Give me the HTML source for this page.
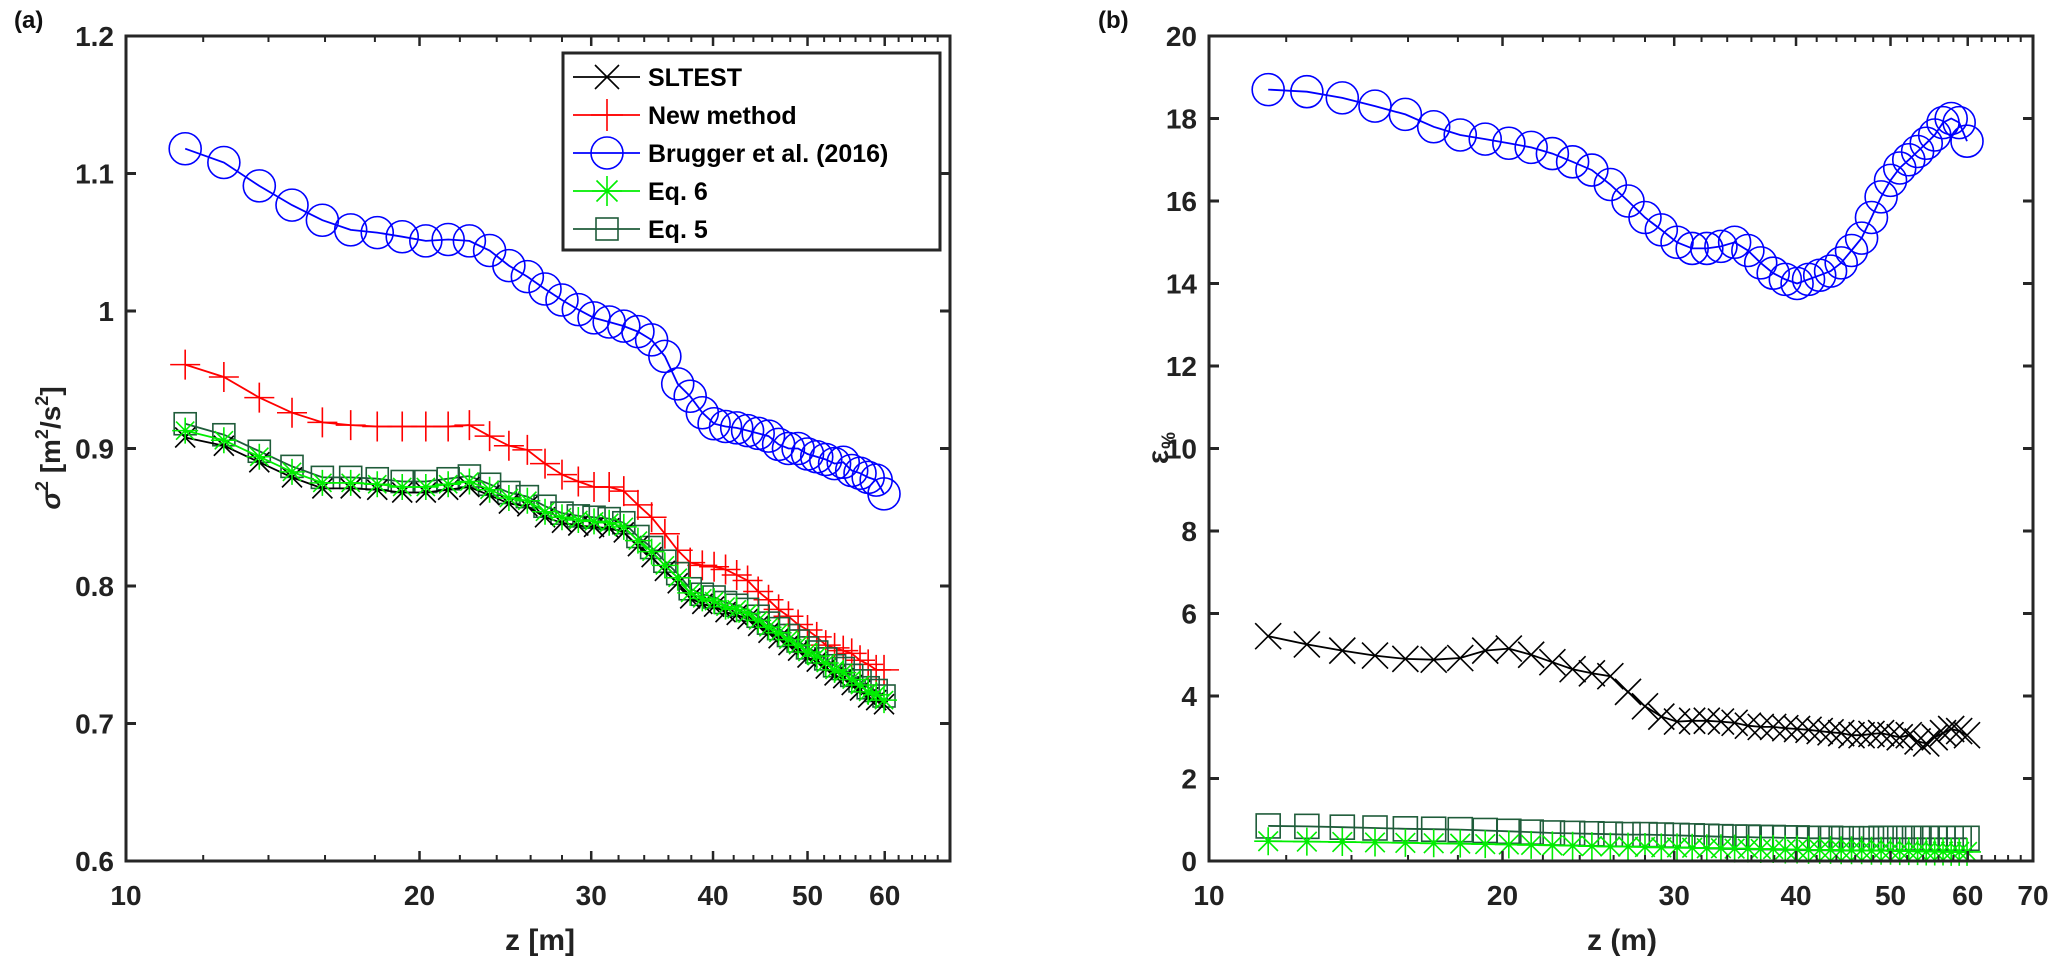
<!DOCTYPE html>
<html><head><meta charset="utf-8">
<style>
html,body{margin:0;padding:0;background:#fff;}
svg{display:block;font-family:"Liberation Sans",Arial,sans-serif;}
</style></head>
<body>
<svg id="fig" width="2067" height="976" viewBox="0 0 2067 976" xmlns="http://www.w3.org/2000/svg">
<rect x="0" y="0" width="2067" height="976" fill="#fff"/>
<text x="14" y="28" font-size="24" font-weight="bold" fill="#111">(a)</text>
<text x="1098" y="28" font-size="24" font-weight="bold" fill="#111">(b)</text>
<g id="pa"></g>
<g id="pb"></g>
<text x="540" y="950" text-anchor="middle" font-size="30" font-weight="bold" fill="#222">z [m]</text>
<text x="1622" y="950" text-anchor="middle" font-size="30" font-weight="bold" fill="#222">z (m)</text>
<text transform="translate(60,448) rotate(-90)" text-anchor="middle" font-size="28" font-weight="bold" fill="#222"><tspan font-style="italic">σ</tspan><tspan dy="-12" font-size="18">2</tspan><tspan dy="12"> [m</tspan><tspan dy="-12" font-size="18">2</tspan><tspan dy="12">/s</tspan><tspan dy="-12" font-size="18">2</tspan><tspan dy="12">]</tspan></text>
<text transform="translate(1168,448) rotate(-90)" text-anchor="middle" font-size="30" font-weight="bold" fill="#222">ε<tspan dx="1" dy="7" font-size="19">%</tspan></text>
<g id="legend"></g>
</svg>
<script>
const zVals = [11.5,12.6,13.7,14.8,15.9,17.0,18.1,19.2,20.3,21.4,22.5,23.6,24.7,25.8,26.9,28.0,29.1,30.2,31.3,32.4,33.5,34.6,35.7,36.8,37.9,39.0,40.1,41.2,42.3,43.4,44.5,45.6,46.7,47.8,48.9,50.0,51.1,52.2,53.3,54.4,55.5,56.6,57.7,58.8,59.9];
const aSltest = [0.908,0.902,0.890,0.879,0.871,0.871,0.870,0.868,0.868,0.870,0.872,0.866,0.860,0.858,0.850,0.846,0.844,0.843,0.842,0.839,0.829,0.821,0.811,0.802,0.791,0.787,0.785,0.781,0.779,0.776,0.771,0.766,0.762,0.757,0.753,0.748,0.745,0.740,0.735,0.733,0.728,0.724,0.719,0.717,0.714];
const aNew = [0.961,0.952,0.937,0.926,0.919,0.917,0.916,0.916,0.916,0.916,0.917,0.909,0.902,0.899,0.889,0.881,0.876,0.872,0.872,0.869,0.859,0.850,0.838,0.826,0.817,0.815,0.814,0.812,0.808,0.804,0.796,0.790,0.783,0.778,0.772,0.768,0.763,0.757,0.755,0.753,0.751,0.746,0.743,0.739,0.739];
const aBrugger = [1.118,1.108,1.091,1.077,1.066,1.059,1.057,1.054,1.051,1.052,1.051,1.044,1.033,1.025,1.016,1.008,1.001,0.995,0.992,0.989,0.985,0.979,0.967,0.947,0.938,0.926,0.918,0.916,0.915,0.913,0.911,0.909,0.903,0.900,0.900,0.896,0.894,0.892,0.889,0.890,0.884,0.882,0.879,0.877,0.867];
const aEq6 = [0.913,0.906,0.894,0.883,0.875,0.875,0.874,0.872,0.872,0.874,0.876,0.870,0.864,0.862,0.854,0.850,0.848,0.847,0.846,0.843,0.833,0.825,0.815,0.806,0.795,0.791,0.789,0.785,0.783,0.780,0.775,0.770,0.766,0.761,0.757,0.752,0.749,0.744,0.739,0.737,0.732,0.728,0.723,0.721,0.717];
const aEq5 = [0.918,0.910,0.898,0.887,0.879,0.879,0.878,0.876,0.876,0.878,0.880,0.874,0.868,0.865,0.858,0.853,0.851,0.850,0.849,0.846,0.836,0.828,0.818,0.809,0.798,0.794,0.792,0.788,0.786,0.783,0.778,0.773,0.769,0.764,0.760,0.755,0.752,0.747,0.742,0.740,0.735,0.731,0.726,0.724,0.720];
const bSltest = [5.45,5.25,5.10,4.98,4.90,4.88,4.92,5.10,5.15,5.00,4.82,4.65,4.55,4.48,4.10,3.75,3.50,3.38,3.40,3.40,3.38,3.35,3.28,3.25,3.25,3.22,3.20,3.18,3.15,3.12,3.10,3.05,3.05,3.08,3.10,3.05,3.00,3.05,2.90,2.85,3.00,3.10,3.20,3.15,3.05];
const bBrugger = [18.7,18.65,18.5,18.3,18.1,17.8,17.6,17.5,17.4,17.3,17.15,16.95,16.75,16.4,16.0,15.6,15.3,15.0,14.85,14.85,14.9,15.0,14.8,14.5,14.25,14.1,14.0,14.1,14.2,14.3,14.5,14.8,15.1,15.6,16.1,16.5,16.8,17.0,17.2,17.4,17.6,17.9,18.0,17.9,17.45];
const bEq6 = [0.48,0.47,0.46,0.45,0.44,0.43,0.42,0.41,0.40,0.39,0.38,0.37,0.36,0.35,0.35,0.34,0.33,0.33,0.32,0.31,0.31,0.30,0.30,0.29,0.29,0.28,0.28,0.27,0.27,0.27,0.26,0.26,0.26,0.25,0.25,0.25,0.24,0.24,0.24,0.23,0.23,0.23,0.22,0.22,0.22];
const bEq5 = [0.85,0.84,0.82,0.80,0.78,0.77,0.76,0.74,0.72,0.70,0.68,0.67,0.66,0.65,0.64,0.64,0.63,0.62,0.61,0.60,0.59,0.58,0.58,0.57,0.57,0.56,0.56,0.55,0.55,0.55,0.54,0.54,0.54,0.54,0.55,0.55,0.55,0.55,0.55,0.55,0.55,0.55,0.55,0.55,0.55];
const aYTicks = ["0.6","0.7","0.8","0.9","1","1.1","1.2"];
const bYTicks = ["0","2","4","6","8","10","12","14","16","18","20"];
const xMajor = [10,20,30,40,50,60,70];
const xMinor = [12,14,16,18,22,24,26,28,32,34,36,38,42,44,46,48,52,54,56,58,62,64,66,68];

const NS = "http://www.w3.org/2000/svg";
function mk(parent, tag, attrs){const e=document.createElementNS(NS,tag);for(const k in attrs)e.setAttribute(k,attrs[k]);parent.appendChild(e);return e;}

const colors = {sltest:"#000000", nw:"#ff0000", br:"#0000ff", eq6:"#00ee00", eq5:"#1f5c3a"};

function marker(g, type, x, y, c, s){
  let m;
  if(type==="x"){m=mk(g,"path",{d:`M${x-s} ${y-s}L${x+s} ${y+s}M${x-s} ${y+s}L${x+s} ${y-s}`,stroke:c,"stroke-width":1.6,fill:"none"});}
  else if(type==="+"){m=mk(g,"path",{d:`M${x-s} ${y}L${x+s} ${y}M${x} ${y-s}L${x} ${y+s}`,stroke:c,"stroke-width":1.6,fill:"none"});}
  else if(type==="o"){m=mk(g,"circle",{cx:x,cy:y,r:s,stroke:c,"stroke-width":1.6,fill:"none"});}
  else if(type==="s"){m=mk(g,"rect",{x:x-s,y:y-s,width:2*s,height:2*s,stroke:c,"stroke-width":1.6,fill:"none"});}
  else {const d=s*0.7;m=mk(g,"path",{d:`M${x-s} ${y}L${x+s} ${y}M${x} ${y-s}L${x} ${y+s}M${x-d} ${y-d}L${x+d} ${y+d}M${x-d} ${y+d}L${x+d} ${y-d}`,stroke:c,"stroke-width":1.6,fill:"none"});}
  return m;
}

function panel(gid, L, R, T, B, ymin, ymax, yTicks, labelLast, series, prefix){
  const g = document.getElementById(gid);
  const xs = z => L + (Math.log10(z) - 1) / Math.log10(7) * (R - L);
  const ys = v => B - (v - ymin) / (ymax - ymin) * (B - T);
  series.forEach(s=>{
    const sg = mk(g,"g",{});
    
    
    const pts = zVals.map((z,i)=>xs(z).toFixed(1)+","+ys(s.data[i]).toFixed(1)).join(" ");
    const ln = mk(sg,"polyline",{points:pts,fill:"none",stroke:s.color,"stroke-width":1.8});
    
    
    zVals.forEach((z,i)=>{
      const m = marker(sg, s.type, xs(z), ys(s.data[i]), s.color, s.size);
      
      
    });
  });
  const fr = mk(g,"rect",{x:L,y:T,width:R-L,height:B-T,fill:"none",stroke:"#262626","stroke-width":3});
  
  
  yTicks.forEach((t,i)=>{
    const v = parseFloat(t); const y = ys(v);
    mk(g,"line",{x1:L,y1:y,x2:L+10,y2:y,stroke:"#262626","stroke-width":3});
    mk(g,"line",{x1:R-10,y1:y,x2:R,y2:y,stroke:"#262626","stroke-width":3});
    const tx = mk(g,"text",{x:L-12,y:y+10,"text-anchor":"end","font-size":28,"font-weight":"bold",fill:"#222"});
    tx.textContent = t;
    
    
  });
  xMajor.forEach(z=>{
    const x = xs(z);
    mk(g,"line",{x1:x,y1:B,x2:x,y2:B-10,stroke:"#262626","stroke-width":2.5});
    mk(g,"line",{x1:x,y1:T,x2:x,y2:T+10,stroke:"#262626","stroke-width":2.5});
    if(z<70 || labelLast){
      const tx = mk(g,"text",{x:x,y:B+44,"text-anchor":"middle","font-size":28,"font-weight":"bold",fill:"#222"});
      tx.textContent = String(z);
      
      
    }
  });
  xMinor.forEach(z=>{
    const x = xs(z);
    mk(g,"line",{x1:x,y1:B,x2:x,y2:B-6,stroke:"#262626","stroke-width":2});
    mk(g,"line",{x1:x,y1:T,x2:x,y2:T+6,stroke:"#262626","stroke-width":2});
  });
}

panel("pa",126,950,36,861,0.6,1.2,aYTicks,false,[
  {name:"brugger",data:aBrugger,color:colors.br,type:"o",size:16},
  {name:"new-method",data:aNew,color:colors.nw,type:"+",size:15},
  {name:"eq5",data:aEq5,color:colors.eq5,type:"s",size:11},
  {name:"sltest",data:aSltest,color:colors.sltest,type:"x",size:10},
  {name:"eq6",data:aEq6,color:colors.eq6,type:"*",size:13}
],"a");

panel("pb",1209,2033,36,861,0,20,bYTicks,true,[
  {name:"brugger",data:bBrugger,color:colors.br,type:"o",size:16},
  {name:"sltest",data:bSltest,color:colors.sltest,type:"x",size:13},
  {name:"eq5",data:bEq5,color:colors.eq5,type:"s",size:12},
  {name:"eq6",data:bEq6,color:colors.eq6,type:"*",size:14}
],"b");

const lg = document.getElementById("legend");
mk(lg,"rect",{x:563,y:53,width:377,height:197,fill:"#fff",stroke:"#262626","stroke-width":3});
const entries = [["SLTEST",colors.sltest,"x",12],["New method",colors.nw,"+",16],["Brugger et al. (2016)",colors.br,"o",16],["Eq. 6",colors.eq6,"*",15],["Eq. 5",colors.eq5,"s",11]];
entries.forEach((e,i)=>{
  const y = 77 + i*38;
  const eg = mk(lg,"g",{});
  
  
  mk(eg,"line",{x1:573,y1:y,x2:640,y2:y,stroke:e[1],"stroke-width":1.8});
  marker(eg,e[2],607,y,e[1],e[3]);
  const t = mk(eg,"text",{x:648,y:y+9,"font-size":25,"font-weight":"bold",fill:"#000"});
  t.textContent = e[0];
});
</script>
</body></html>
